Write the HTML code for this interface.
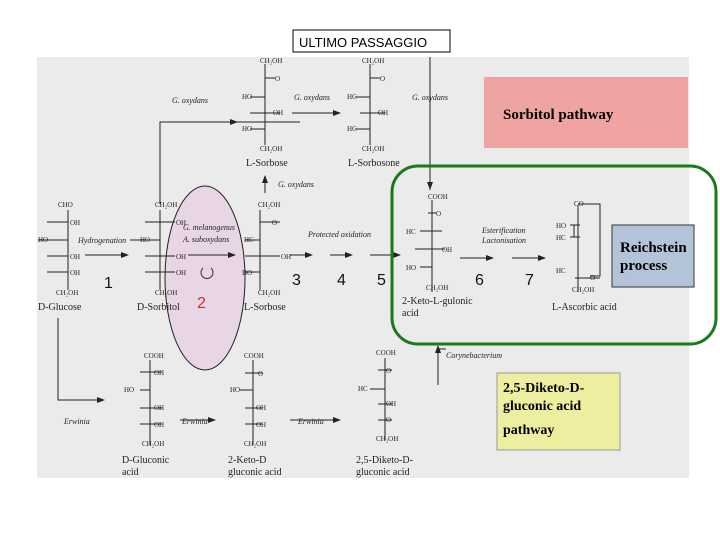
<!DOCTYPE html>
<html><head><meta charset="utf-8"><style>
body{margin:0;background:#fff;width:720px;height:540px;overflow:hidden}
svg{display:block}
.s{font-size:7px;font-family:"Liberation Serif",serif;fill:#222}
.n{font-size:10px;font-family:"Liberation Serif",serif;fill:#222}
.i{font-size:8px;font-style:italic;font-family:"Liberation Serif",serif;fill:#222}
</style></head><body>
<svg width="720" height="540" viewBox="0 0 720 540">
<defs><marker id="a" markerWidth="8" markerHeight="6" refX="7" refY="3" orient="auto"><path d="M0,0L8,3L0,6z" fill="#222"/></marker></defs>
<rect x="37" y="57" width="652" height="421" fill="#ebebeb"/>
<rect x="293" y="30" width="157" height="22" fill="#fff" stroke="#000"/>
<text x="299" y="47" font-family="Liberation Sans, sans-serif" font-size="13">ULTIMO PASSAGGIO</text>
<rect x="484" y="77" width="204" height="71" fill="#efa3a3"/>
<text x="503" y="119" font-family="Liberation Serif, serif" font-size="15" font-weight="bold">Sorbitol pathway</text>
<rect x="497" y="373" width="123" height="77" fill="#eeeea0" stroke="#999"/>
<g font-family="Liberation Serif, serif" font-size="14" font-weight="bold">
<text x="503" y="392">2,5-Diketo-D-</text>
<text x="503" y="410">gluconic acid</text>
<text x="503" y="434">pathway</text>
</g>
<ellipse cx="205" cy="278" rx="40" ry="92" fill="#e8d6e6" stroke="#222"/>
<g stroke="#222" fill="none" stroke-width="1">
<path d="M68 210V290M47 222H68M38 240H68M47 256H68M47 272H68"/>
<path d="M160 210V290M145 222H175M130 240H160M145 256H175M145 272H175M160 204V122H300"/>
<path d="M260 210V290M260 222H280M245 240H260M245 256H280M245 272H260M265 193V182"/>
<path d="M265 64V145M265 78H275M250 97H265M250 113H280M250 129H265"/>
<path d="M370 64V145M370 78H380M355 97H370M360 113H385M355 129H370M430 57V190"/>
<path d="M432 200V292M428 213H436M420 231H442M415 249H445M420 267H432"/>
<path d="M578 205V292M578 204H600V276H590M570 225H580M570 237H580M574 225V237M578 278H590M575 278H600"/>
<path d="M150 360V445M140 372H162M140 390H150M140 408H162M140 424H162"/>
<path d="M253 360V445M245 373H262M240 390H253M245 408H262M245 424H262"/>
<path d="M385 358V440M378 370H392M370 389H385M378 404H392M378 420H392"/>
<path d="M58 318V400H102M438 380V349H446"/>
</g>
<g stroke="#222" stroke-width="1" marker-end="url(#a)">
<line x1="160" y1="122" x2="237" y2="122"/>
<line x1="292" y1="113" x2="340" y2="113"/>
<line x1="265" y1="190" x2="265" y2="176"/>
<line x1="85" y1="255" x2="128" y2="255"/>
<line x1="188" y1="255" x2="235" y2="255"/>
<line x1="290" y1="255" x2="312" y2="255"/>
<line x1="330" y1="255" x2="352" y2="255"/>
<line x1="370" y1="255" x2="400" y2="255"/>
<line x1="430" y1="170" x2="430" y2="189"/>
<line x1="460" y1="258" x2="493" y2="258"/>
<line x1="512" y1="258" x2="545" y2="258"/>
<line x1="438" y1="385" x2="438" y2="346"/>
<line x1="58" y1="400" x2="104" y2="400"/>
<line x1="180" y1="420" x2="215" y2="420"/>
<line x1="290" y1="420" x2="340" y2="420"/>
</g>
<rect x="392" y="166" width="324" height="178" rx="26" fill="none" stroke="#1a7a1a" stroke-width="3"/>
<rect x="612" y="225" width="82" height="62" fill="#b4c4d8" stroke="#333"/>
<g font-family="Liberation Serif, serif" font-size="15" font-weight="bold">
<text x="620" y="252">Reichstein</text>
<text x="620" y="270">process</text>
</g>
<g class="s">
<text x="58" y="207">CHO</text><text x="70" y="225">OH</text><text x="38" y="242">HO</text><text x="70" y="259">OH</text><text x="70" y="275">OH</text><text x="56" y="295">CH₂OH</text>
<text x="155" y="207">CH₂OH</text><text x="176" y="225">OH</text><text x="140" y="242">HO</text><text x="176" y="259">OH</text><text x="176" y="275">OH</text><text x="155" y="295">CH₂OH</text>
<text x="258" y="207">CH₂OH</text><text x="272" y="225">O</text><text x="244" y="242">HC</text><text x="281" y="259">OH</text><text x="242" y="275">HO</text><text x="258" y="295">CH₂OH</text>
<text x="260" y="63">CH₂OH</text><text x="275" y="81">O</text><text x="242" y="99">HO</text><text x="273" y="115">OH</text><text x="242" y="131">HO</text><text x="260" y="151">CH₂OH</text>
<text x="362" y="63">CH₂OH</text><text x="380" y="81">O</text><text x="347" y="99">HC</text><text x="378" y="115">OH</text><text x="347" y="131">HC</text><text x="362" y="151">CH₂OH</text>
<text x="428" y="199">COOH</text><text x="436" y="216">O</text><text x="406" y="234">HC</text><text x="442" y="252">OH</text><text x="406" y="270">HO</text><text x="426" y="290">CH₂OH</text>
<text x="574" y="206">CO</text><text x="556" y="228">HO</text><text x="556" y="240">HC</text><text x="590" y="280">O</text><text x="556" y="273">HC</text><text x="572" y="292">CH₂OH</text>
<text x="144" y="358">COOH</text><text x="154" y="375">OH</text><text x="124" y="392">HO</text><text x="154" y="410">OH</text><text x="154" y="427">OH</text><text x="142" y="446">CH₂OH</text>
<text x="244" y="358">COOH</text><text x="258" y="376">O</text><text x="230" y="392">HO</text><text x="256" y="410">OH</text><text x="256" y="427">OH</text><text x="244" y="446">CH₂OH</text>
<text x="376" y="355">COOH</text><text x="386" y="373">O</text><text x="358" y="391">HC</text><text x="386" y="406">OH</text><text x="386" y="422">O</text><text x="376" y="441">CH₂OH</text>
</g>
<g class="i">
<text x="172" y="103">G. oxydans</text><text x="294" y="100">G. oxydans</text><text x="412" y="100">G. oxydans</text>
<text x="278" y="187">G. oxydans</text><text x="78" y="243">Hydrogenation</text>
<text x="183" y="230">G. melanogenus</text><text x="183" y="242">A. suboxydans</text>
<text x="308" y="237">Protected oxidation</text>
<text x="482" y="233">Esterification</text><text x="482" y="243">Lactonisation</text>
<text x="446" y="358">Corynebacterium</text>
<text x="64" y="424">Erwinia</text><text x="182" y="424">Erwinia</text><text x="298" y="424">Erwinia</text>
</g>
<g class="n">
<text x="38" y="310">D-Glucose</text><text x="137" y="310">D-Sorbitol</text><text x="244" y="310">L-Sorbose</text>
<text x="246" y="166">L-Sorbose</text><text x="348" y="166">L-Sorbosone</text>
<text x="402" y="304">2-Keto-L-gulonic</text><text x="402" y="316">acid</text>
<text x="552" y="310">L-Ascorbic acid</text>
<text x="122" y="463">D-Gluconic</text><text x="122" y="475">acid</text>
<text x="228" y="463">2-Keto-D</text><text x="228" y="475">gluconic acid</text>
<text x="356" y="463">2,5-Diketo-D-</text><text x="356" y="475">gluconic acid</text>
</g>
<g font-family="Liberation Sans, sans-serif" font-size="16" fill="#111">
<text x="104" y="288">1</text><text x="197" y="308" fill="#d03030">2</text><text x="292" y="285">3</text><text x="337" y="285">4</text><text x="377" y="285">5</text><text x="475" y="285">6</text><text x="525" y="285">7</text>
</g>
<path d="M203 268a6 6 0 1 0 8 0" fill="none" stroke="#333"/>
</svg>
</body></html>
